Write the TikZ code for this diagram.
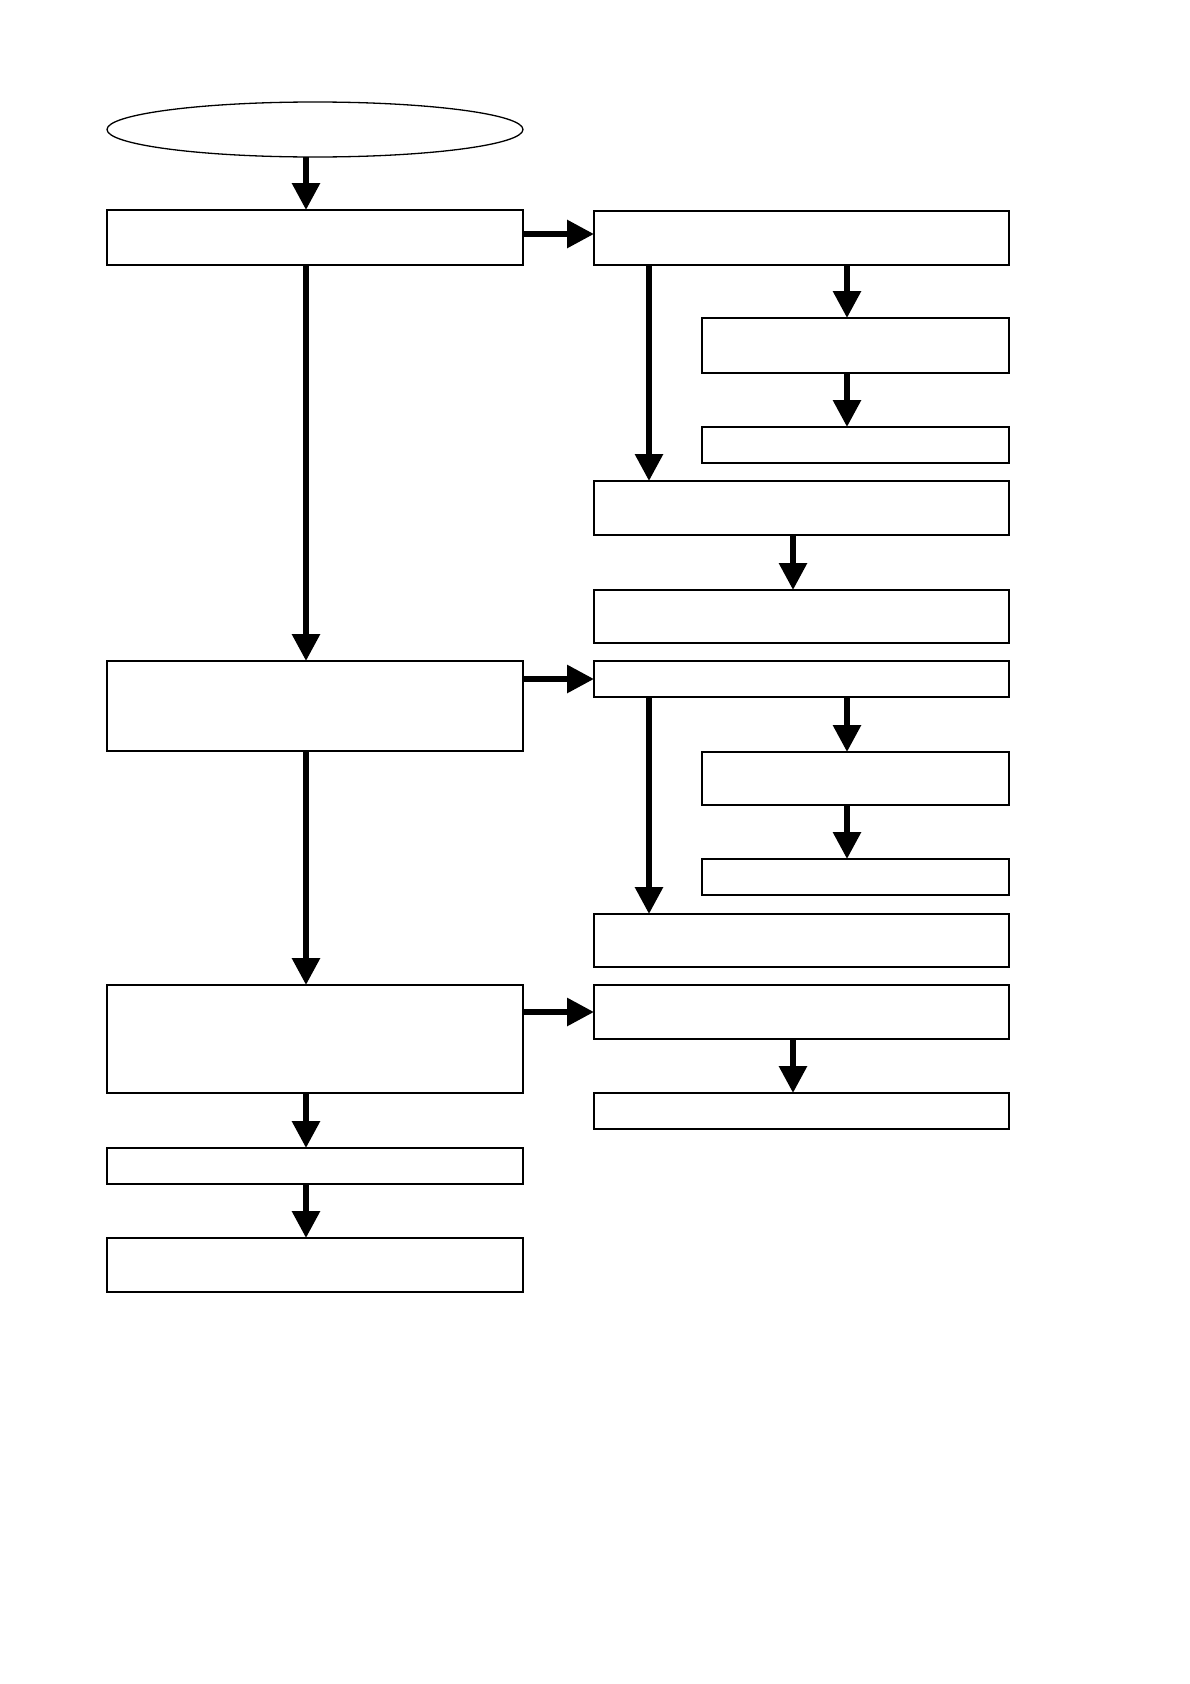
\documentclass[tikz,border=0pt]{standalone}
\usetikzlibrary{arrows.meta,shapes.geometric}
\begin{document}
\begin{tikzpicture}[x=1pt,y=-1pt,
  box/.style={draw=black,line width=1.3pt,fill=white,rectangle,inner sep=0pt,outer sep=0pt},
  oval/.style={draw=black,line width=1.3pt,fill=white,ellipse,inner sep=0pt,outer sep=0pt},
  arr/.style={line width=6pt,-{Triangle[length=27pt,width=27pt]}}]
\useasboundingbox (0,0) rectangle (1190,1684);
\node[oval,minimum width=416pt,minimum height=55pt] (ell) at (315,129.5) {};
\node[box,minimum width=416pt,minimum height=55pt] (A) at (315,237.5) {};
\node[box,minimum width=415pt,minimum height=54pt] (B) at (801.5,238) {};
\node[box,minimum width=307pt,minimum height=55pt] (C) at (855.5,345.5) {};
\node[box,minimum width=307pt,minimum height=36pt] (C2) at (855.5,445) {};
\node[box,minimum width=415pt,minimum height=54pt] (D) at (801.5,508) {};
\node[box,minimum width=415pt,minimum height=53pt] (E) at (801.5,616.5) {};
\node[box,minimum width=416pt,minimum height=90pt] (F) at (315,706) {};
\node[box,minimum width=415pt,minimum height=36pt] (G) at (801.5,679) {};
\node[box,minimum width=307pt,minimum height=53pt] (H) at (855.5,778.5) {};
\node[box,minimum width=307pt,minimum height=36pt] (I) at (855.5,877) {};
\node[box,minimum width=415pt,minimum height=53pt] (J) at (801.5,940.5) {};
\node[box,minimum width=416pt,minimum height=108pt] (K) at (315,1039) {};
\node[box,minimum width=415pt,minimum height=54pt] (L) at (801.5,1012) {};
\node[box,minimum width=415pt,minimum height=36pt] (M) at (801.5,1111) {};
\node[box,minimum width=416pt,minimum height=36pt] (N) at (315,1166) {};
\node[box,minimum width=416pt,minimum height=54pt] (O) at (315,1265) {};
% left column
\draw[arr] ([xshift=-9pt]ell.south) -- ([xshift=-9pt]A.north);
\draw[arr] ([xshift=-9pt]A.south) -- ([xshift=-9pt]F.north);
\draw[arr] ([xshift=-9pt]F.south) -- ([xshift=-9pt]K.north);
\draw[arr] ([xshift=-9pt]K.south) -- ([xshift=-9pt]N.north);
\draw[arr] ([xshift=-9pt]N.south) -- ([xshift=-9pt]O.north);
% horizontal
\draw[arr] ([yshift=3.5pt]A.east) -- ([yshift=3.5pt]A.east -| B.west);
\draw[arr] (F.east |- G.west) -- (G.west);
\draw[arr] (K.east |- L.west) -- (L.west);
% right top group
\draw[arr] ([xshift=-152.5pt]B.south) -- ([xshift=-152.5pt]D.north);
\draw[arr] ([xshift=-8.5pt]C.north |- B.south) -- ([xshift=-8.5pt]C.north);
\draw[arr] ([xshift=-8.5pt]C.south) -- ([xshift=-8.5pt]C2.north);
\draw[arr] ([xshift=-8.5pt]D.south) -- ([xshift=-8.5pt]E.north);
% right middle group
\draw[arr] ([xshift=-152.5pt]G.south) -- ([xshift=-152.5pt]J.north);
\draw[arr] ([xshift=-8.5pt]H.north |- G.south) -- ([xshift=-8.5pt]H.north);
\draw[arr] ([xshift=-8.5pt]H.south) -- ([xshift=-8.5pt]I.north);
% right bottom group
\draw[arr] ([xshift=-8.5pt]L.south) -- ([xshift=-8.5pt]M.north);
\end{tikzpicture}
\end{document}
